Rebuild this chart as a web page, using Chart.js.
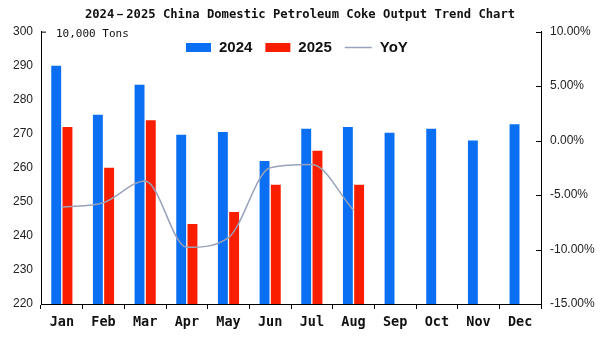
<!DOCTYPE html>
<html lang="en">
<head>
    <meta charset="UTF-8">
    <title>Petroleum Coke Output</title>
    <script src="https://cdn.jsdelivr.net/npm/chart.js"></script>
    <style>
        body { margin: 0; background: #fff; }
        #wrap { width: 600px; height: 350px; }
    </style>
</head>
<body>
    <div id="wrap"><canvas id="grafico"></canvas></div>

<script>
    // dados
    var meses = ['Jan', 'Feb', 'Mar', 'Apr', 'May', 'Jun', 'Jul', 'Aug', 'Sep', 'Oct', 'Nov', 'Dec'];
    var producao2024 = [290, 275.6, 284.4, 269.7, 270.5, 262, 271.5, 272, 270.3, 271.5, 268, 272.8];
    var producao2025 = [272, 260, 274, 243.5, 247, 255, 265, 255, null, null, null, null];
    var yoy = [-6.1, -5.7, -3.7, -9.8, -8.9, -2.5, -2.2, -6.4];
    var ticksEsquerda = [220, 300, 10];   // min, max, passo
    var ticksDireita = [-15, 10, 5];

    var fonteMono = '"DejaVu Sans Mono", monospace';
    var fonteNum = '"Liberation Sans", Arial, sans-serif';

    // legenda, unidade e pequenos tracos dos eixos
    var legendaPlugin = {
        id: 'legendaPlugin',
        afterDraw: function (chart) {
            var c = chart.ctx;
            var area = chart.chartArea;
            c.save();

            // tracos internos
            c.strokeStyle = '#000';
            c.lineWidth = 1;
            c.beginPath();
            c.moveTo(area.left, area.top + 0.5);
            c.lineTo(area.left + 5, area.top + 0.5);
            var d = chart.scales.y1;
            for (var v = ticksDireita[0]; v <= ticksDireita[1]; v += ticksDireita[2]) {
                var py = Math.round(d.getPixelForValue(v)) + 0.5;
                c.moveTo(area.right, py);
                c.lineTo(area.right - 5, py);
            }
            c.stroke();

            c.fillStyle = '#111';
            c.font = '11px ' + fonteMono;
            c.textBaseline = 'middle';
            c.textAlign = 'left';
            c.fillText('10,000 Tons', 56, 34);

            // ordem da legenda: 2024, 2025, YoY
            var ordem = [1, 2, 0];
            var ds = chart.data.datasets;
            var x = 186, y = 47;
            c.font = 'bold 15px ' + fonteNum;
            for (var k = 0; k < ordem.length; k++) {
                var item = ds[ordem[k]];
                var larg;
                if (item.type == 'line') {
                    larg = 27;
                    c.strokeStyle = item.borderColor;
                    c.lineWidth = 1.5;
                    c.beginPath();
                    c.moveTo(x, y + 0.5);
                    c.lineTo(x + larg, y + 0.5);
                    c.stroke();
                } else {
                    larg = 25;
                    c.fillStyle = item.backgroundColor;
                    c.fillRect(x, y - 4, larg, 9);
                }
                c.fillStyle = '#111';
                c.fillText(item.label, x + larg + 8, y + 1);
                x += larg + 8 + c.measureText(item.label).width + 13;
            }
            c.restore();
        }
    };

    var ctx = document.getElementById('grafico');

    new Chart(ctx, {
        data: {
            labels: meses,
            datasets: [{
                type: 'line',
                label: 'YoY',
                data: yoy,
                yAxisID: 'y1',
                borderColor: '#98a2bb',
                borderWidth: 1.5,
                pointRadius: 0,
                cubicInterpolationMode: 'monotone',
                order: 0
            }, {
                type: 'bar',
                label: '2024',
                data: producao2024,
                backgroundColor: '#0a6ff2',
                categoryPercentage: 0.54,
                barPercentage: 0.88,
                order: 1
            }, {
                type: 'bar',
                label: '2025',
                data: producao2025,
                backgroundColor: '#fa1e00',
                categoryPercentage: 0.54,
                barPercentage: 0.88,
                order: 1
            }]
        },
        options: {
            responsive: true,
            maintainAspectRatio: false,
            animation: false,
            layout: { padding: 0 },
            plugins: {
                legend: { display: false },
                tooltip: { enabled: false },
                title: {
                    display: true,
                    text: '2024－2025 China Domestic Petroleum Coke Output Trend Chart',
                    color: '#111',
                    font: { size: 12.2, weight: 'bold', family: fonteMono },
                    padding: { top: 8, bottom: 9 }
                }
            },
            scales: {
                x: {
                    grid: { display: true, offset: true, drawOnChartArea: false, color: '#000', tickLength: 5 },
                    border: { color: '#000', width: 1 },
                    ticks: {
                        color: '#111',
                        padding: 5,
                        font: { size: 13.5, weight: 'bold', family: fonteMono }
                    },
                    afterFit: function (s) { s.height = 46; }
                },
                y: {
                    position: 'left',
                    min: ticksEsquerda[0],
                    max: ticksEsquerda[1],
                    grid: { display: false, drawTicks: false },
                    border: { display: true, color: '#000', width: 1 },
                    ticks: {
                        stepSize: ticksEsquerda[2],
                        color: '#222',
                        padding: 8,
                        font: { size: 12, family: fonteNum }
                    },
                    afterFit: function (s) { s.width = 41; }
                },
                y1: {
                    position: 'right',
                    min: ticksDireita[0],
                    max: ticksDireita[1],
                    grid: { display: false, drawTicks: false },
                    border: { display: true, color: '#000', width: 1 },
                    ticks: {
                        stepSize: ticksDireita[2],
                        color: '#222',
                        padding: 9,
                        font: { size: 12, family: fonteNum },
                        callback: function (v) { return v.toFixed(2) + '%'; }
                    },
                    afterFit: function (s) { s.width = 59; }
                }
            }
        },
        plugins: [legendaPlugin]
    });
</script>
</body>
</html>
